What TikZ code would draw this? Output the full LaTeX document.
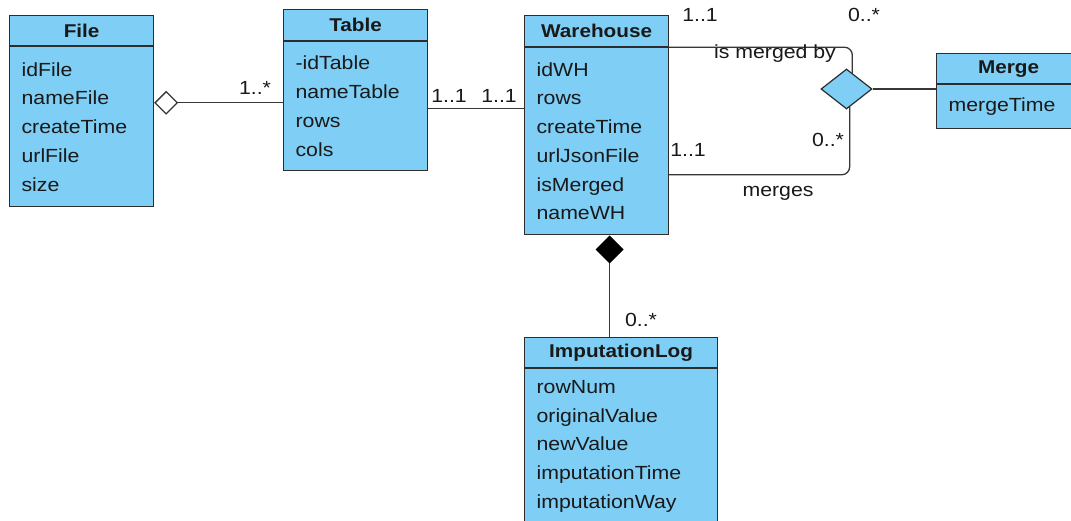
\documentclass[tikz,border=0pt]{standalone}
\usepackage{fontspec}
\setmainfont{Liberation Sans}[FakeStretch=1.12]
\usetikzlibrary{arrows.meta,shapes.geometric}
\definecolor{umlblue}{RGB}{126,206,245}
\definecolor{boxline}{RGB}{45,45,45}
\definecolor{connline}{RGB}{55,55,55}
\definecolor{textcol}{RGB}{25,25,25}
\newcommand{\attrfont}{\fontsize{19}{28.75}\selectfont}
\newcommand{\headfont}{\bfseries\fontsize{18.5}{22}\selectfont}
\tikzset{
  classhead/.style={draw=boxline, fill=umlblue, line width=1.2pt, anchor=north west,
    inner sep=0pt, font=\headfont, text=textcol},
  classbody/.style={draw=boxline, fill=umlblue, line width=1.2pt, anchor=north west,
    inner xsep=12pt, inner ysep=0pt, align=left, font=\attrfont, text=textcol},
  assoc/.style={draw=connline, line width=1.3pt},
  mult/.style={font=\fontsize{19}{23}\selectfont, text=textcol, inner sep=0pt}
}
\begin{document}
\begin{tikzpicture}[x=1pt, y=-1pt]
    \useasboundingbox (0,0) rectangle (1071,521);

    \node[classhead, minimum width=144, minimum height=30] (file) at (9,15) {File};
    \node[classbody, text width=120, minimum height=160] (file-attr) at (file.south west)
      {idFile\\nameFile\\createTime\\urlFile\\size};

    \node[classhead, minimum width=144, minimum height=31] (table) at (283,9) {Table};
    \node[classbody, text width=120, minimum height=129] (table-attr) at (table.south west)
      {-idTable\\nameTable\\rows\\cols};

    \node[classhead, minimum width=144, minimum height=31] (wh) at (524,15) {Warehouse};
    \node[classbody, text width=120, minimum height=187] (wh-attr) at (wh.south west)
      {idWH\\rows\\createTime\\urlJsonFile\\isMerged\\nameWH};

    \node[classhead, minimum width=144, minimum height=30] (merge) at (936,53) {Merge};
    \node[classbody, text width=120, minimum height=44] (merge-attr) at (merge.south west)
      {mergeTime};

    \node[classhead, minimum width=193, minimum height=30] (imp) at (524,337) {ImputationLog};
    \node[classbody, text width=169, minimum height=155] (imp-attr) at (imp.south west)
      {rowNum\\originalValue\\newValue\\imputationTime\\imputationWay};

    \node[diamond, draw=boxline, fill=umlblue, line width=1.2pt, inner sep=0pt,
      minimum width=51, minimum height=40] (massoc) at (846.5,89) {};

    \draw[assoc, {Diamond[open, length=24pt, width=24pt]}-]
      ([yshift=24]file-attr.east) -- ([yshift=3.5]table-attr.west);
    \draw[assoc] ([yshift=-2.5]table-attr.east) -- ([yshift=32.5]wh-attr.west);
    \draw[assoc, rounded corners=8pt] (wh.south east) -| (massoc.70);
    \draw[assoc, rounded corners=8pt] (massoc.-80) |- ([yshift=-33.5]wh-attr.east);
    \draw[assoc] (massoc.east) -- (massoc.east -| merge-attr.west);
    \draw[assoc, {Diamond[length=28pt, width=28pt, color=black]}-]
      ([xshift=13]wh-attr.south) -- ([xshift=-11.5]imp.north);

    \node[mult] (m1) at (255,88) {1..*};
    \node[mult] (m2) at (449,96) {1..1};
    \node[mult] (m3) at (499,96) {1..1};
    \node[mult] (m4) at (700,15) {1..1};
    \node[mult] (m5) at (864,15) {0..*};
    \node[mult] (r1) at (775,54) {is merged by};
    \node[mult] (m6) at (828,140) {0..*};
    \node[mult] (m7) at (688,150) {1..1};
    \node[mult] (r2) at (778,193) {merges};
    \node[mult] (m8) at (641,320) {0..*};
  \end{tikzpicture}
\end{document}
